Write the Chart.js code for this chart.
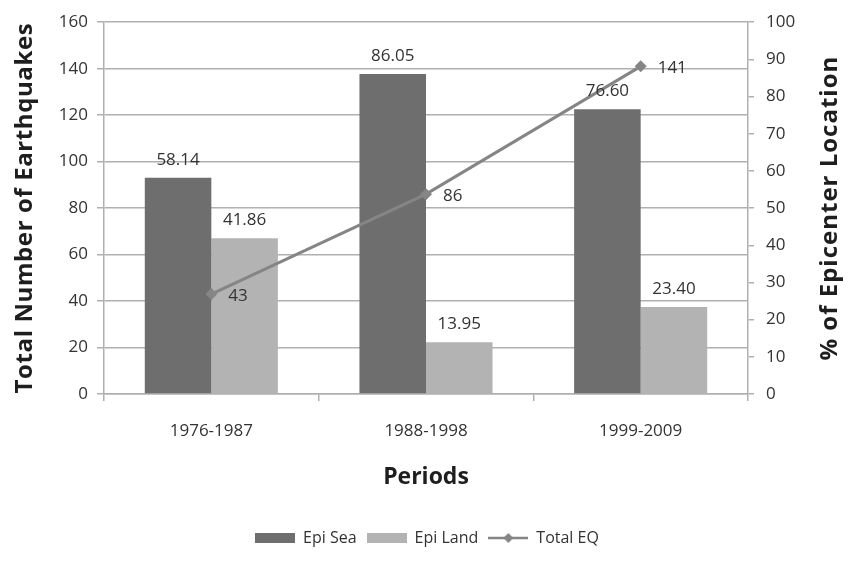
<!DOCTYPE html>
<html>
<head>
<meta charset="utf-8">
<script src="https://cdn.jsdelivr.net/npm/chart.js@4.4.0/dist/chart.umd.min.js"></script>
<style>
  html, body { margin: 0; padding: 0; background: #fff; }
</style>
</head>
<body>
<canvas id="chart" width="854" height="561"></canvas>
<script>
// Earthquake epicenters by period

const periods = ['1976-1987', '1988-1998', '1999-2009'];
const epiSea = [58.14, 86.05, 76.60];
const epiLand = [41.86, 13.95, 23.40];
const totalEq = [43, 86, 141];

const colors = {
  sea: '#6e6e6e',
  land: '#b3b3b3',
  line: '#858585',
  grid: '#b0b0b0',
  text: '#333333',
  title: '#1e1e1e'
};

const FONT = "'Open Sans', sans-serif";

function legendIcon(kind, color) {
  const c = document.createElement('canvas');
  c.width = 40;
  c.height = 12;
  const g = c.getContext('2d');
  if (kind === 'bar') {
    g.fillStyle = color;
    g.fillRect(0, 1, 40, 10);
  } else {
    g.strokeStyle = color;
    g.lineWidth = 2.5;
    g.beginPath();
    g.moveTo(0, 6);
    g.lineTo(40, 6);
    g.stroke();
    g.fillStyle = color;
    g.beginPath();
    g.moveTo(20, 1);
    g.lineTo(25, 6);
    g.lineTo(20, 11);
    g.lineTo(15, 6);
    g.closePath();
    g.fill();
  }
  return c;
}

// value labels above bars, right of line points
const valueLabels = {
  id: 'valueLabels',
  afterDatasetsDraw(chart) {
    const ctx = chart.ctx;
    ctx.save();
    ctx.font = '17px ' + FONT;
    ctx.fillStyle = colors.text;
    ctx.textBaseline = 'middle';
    chart.data.datasets.forEach((ds, i) => {
      const meta = chart.getDatasetMeta(i);
      meta.data.forEach((el, j) => {
        const v = ds.data[j];
        if (ds.type === 'line') {
          ctx.textAlign = 'left';
          ctx.fillText(String(v), el.x + 17, el.y + 2);
        } else {
          ctx.textAlign = 'center';
          ctx.fillText(v.toFixed(2), el.x, el.y - 18);
        }
      });
    });
    ctx.restore();
  }
};

// both y titles read bottom-to-top
const yTitles = {
  id: 'yTitles',
  afterDraw(chart) {
    const ctx = chart.ctx;
    const area = chart.chartArea;
    const midY = (area.top + area.bottom) / 2;
    const draw = (text, x, spacing) => {
      ctx.save();
      ctx.translate(x, midY);
      ctx.rotate(-Math.PI / 2);
      ctx.font = 'bold 24px ' + FONT;
      if ('letterSpacing' in ctx) ctx.letterSpacing = spacing;
      ctx.fillStyle = colors.title;
      ctx.textAlign = 'center';
      ctx.textBaseline = 'middle';
      ctx.fillText(text, 0, 0);
      ctx.restore();
    };
    draw('Total Number of Earthquakes', 25, '0.6px');
    draw('% of Epicenter Location', 830, '1px');
  }
};

new Chart(document.getElementById('chart'), {
  data: {
    labels: periods,
    datasets: [
      {
        type: 'line',
        label: 'Total EQ',
        data: totalEq,
        yAxisID: 'y',
        borderColor: colors.line,
        backgroundColor: colors.line,
        borderWidth: 3,
        pointStyle: 'rectRot',
        pointRadius: 6,
        pointBackgroundColor: colors.line,
        pointBorderWidth: 0,
        tension: 0,
        order: 0
      },
      {
        type: 'bar',
        label: 'Epi Sea',
        data: epiSea,
        yAxisID: 'y1',
        backgroundColor: colors.sea,
        categoryPercentage: 0.62,
        barPercentage: 1.0,
        order: 1
      },
      {
        type: 'bar',
        label: 'Epi Land',
        data: epiLand,
        yAxisID: 'y1',
        backgroundColor: colors.land,
        categoryPercentage: 0.62,
        barPercentage: 1.0,
        order: 1
      }
    ]
  },
  options: {
    responsive: false,
    animation: false,
    layout: {
      padding: { top: 16, left: 0, right: 0, bottom: 5 }
    },
    plugins: {
      tooltip: { enabled: false },
      legend: {
        display: true,
        position: 'bottom',
        labels: {
          usePointStyle: true,
          pointStyleWidth: 40,
          boxHeight: 12,
          padding: 10,
          color: colors.text,
          font: { family: FONT, size: 16 },
          generateLabels: () => [
            { text: 'Epi Sea', pointStyle: legendIcon('bar', colors.sea), fontColor: colors.text, datasetIndex: 1, lineWidth: 0 },
            { text: 'Epi Land', pointStyle: legendIcon('bar', colors.land), fontColor: colors.text, datasetIndex: 2, lineWidth: 0 },
            { text: 'Total EQ', pointStyle: legendIcon('line', colors.line), fontColor: colors.text, datasetIndex: 0, lineWidth: 0 }
          ]
        }
      }
    },
    scales: {
      x: {
        offset: true,
        grid: {
          offset: true,
          drawOnChartArea: false,
          drawTicks: true,
          tickLength: 7,
          color: colors.grid,
          lineWidth: 1.5
        },
        border: { display: true, color: colors.grid, width: 1.5 },
        ticks: {
          color: colors.text,
          font: { family: FONT, size: 17 },
          padding: 20
        },
        title: {
          display: true,
          text: 'Periods',
          color: colors.title,
          font: { family: FONT, size: 23, weight: 'bold' },
          padding: { top: 0, bottom: 29 }
        },
        afterFit: (scale) => { scale.height = 126; }
      },
      y: {
        position: 'left',
        min: 0,
        max: 160,
        grid: {
          color: colors.grid,
          lineWidth: 1.5,
          tickLength: 7
        },
        border: { display: true, color: colors.grid, width: 1.5 },
        ticks: {
          stepSize: 20,
          color: colors.text,
          font: { family: FONT, size: 17 },
          padding: 9
        },
        afterFit: (scale) => { scale.width = 104; }
      },
      y1: {
        position: 'right',
        min: 0,
        max: 100,
        grid: {
          drawOnChartArea: false,
          color: colors.grid,
          lineWidth: 1.5,
          tickLength: 6
        },
        border: { display: true, color: colors.grid, width: 1.5 },
        ticks: {
          stepSize: 10,
          color: colors.text,
          font: { family: FONT, size: 17 },
          padding: 12
        },
        afterFit: (scale) => { scale.width = 106; }
      }
    }
  },
  plugins: [valueLabels, yTitles]
});
</script>
</body>
</html>
